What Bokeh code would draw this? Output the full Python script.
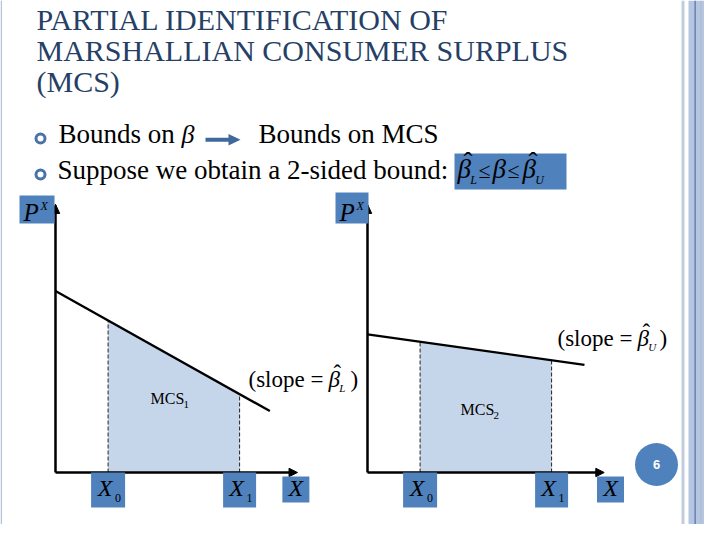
from bokeh.plotting import figure
from bokeh.models import Range1d
from bokeh.core.properties import value
from bokeh.embed import file_html
from bokeh.resources import INLINE

# ---------------- data ----------------
title_lines = ["PARTIAL IDENTIFICATION OF", "MARSHALLIAN CONSUMER SURPLUS", "(MCS)"]
bullet1_a = "Bounds on"
bullet1_b = "Bounds on MCS"
bullet2 = "Suppose we obtain a 2-sided bound:"
panel_names = ["L", "U"]
X0 = 2.0
X1 = 7.0
demand_intercept = [6.9, 5.25]
demand_slope = [-0.56, -0.14]
demand_end = [8.15, 8.25]
axis_x_len = [9.2, 9.0]
axis_y_len = [10.15, 10.15]
x_label_pos = [9.14, 9.24]
mcs_subs = ["1", "2"]
slope_subs = ["L", "U"]
page_number = "6"

# ---------------- style ----------------
SERIF = "Liberation Serif"
BLUE = "#4F81BD"
TITLE_C = "#263F66"
SHADE = "#C6D6EA"
HAT = "\u02c6"
K = 0.38  # baseline correction (fraction of font size)

p = figure(width=704, height=524, x_range=Range1d(8, 712), y_range=Range1d(532, 8),
           output_backend="svg", toolbar_location=None, min_border=0,
           x_axis_location=None, y_axis_location=None)
p.grid.visible = False
p.outline_line_color = None
p.background_fill_color = "white"


def txt(x, y, s, size, color="black", style="normal", font=SERIF, align="left"):
    p.text(x=[x], y=[y - K * size], text=[s], text_font=value(font),
           text_font_size=f"{size}px", text_color=color, text_font_style=style,
           text_align=align, text_baseline="alphabetic")


def box(l, r, t, b, color=BLUE):
    p.quad(left=[l], right=[r], top=[t], bottom=[b], fill_color=color, line_color=None)


def beta_hat(x, y, size, sub=None, hat=True):
    txt(x, y, "β", size, style="italic")
    if hat:
        txt(x + 0.22 * size, y - 0.27 * size, HAT, size)
    if sub:
        txt(x + 0.47 * size, y + 0.17 * size, sub, round(size * 0.46), style="italic")


# ---------------- slide borders ----------------
box(8, 9.5, 8, 532, "#B5C3DB")
box(689, 692, 8, 532, "#C3CCDA")
box(696, 712, 8, 532, "#B6C6E0")
box(708, 709, 8, 532, "#A9B9D6")
box(702, 703.3, 8, 532, "#5879AB")

# ---------------- title ----------------
for i, line in enumerate(title_lines):
    txt(44, 38 + 31 * i, line, 30, color=TITLE_C)

# ---------------- bullets ----------------
p.scatter(x=[48, 48], y=[146, 182], marker="circle", size=9, fill_color="white",
          line_color="#4A74A8", line_width=3)
txt(66, 152, bullet1_a, 27)
txt(189, 152, "β", 26, style="italic")
p.quad(left=[213], right=[238], top=[145.3], bottom=[149.2], fill_color="#3F689D", line_color=None)
p.patch(x=[236, 236, 248], y=[141.5, 153, 147.2], fill_color="#3F689D", line_color=None)
txt(266, 152, bullet1_b, 27)
txt(65, 188, bullet2, 27)

# formula box
box(462, 574, 161, 197)
beta_hat(465, 187, 27, "L")
txt(486, 186, "≤", 22)
beta_hat(500, 187, 27, None, hat=False)
txt(515, 186, "≤", 22)
beta_hat(530, 187, 27, "U")

# ---------------- panels ----------------
u = 26.3
origins = [(63, 480), (375, 480)]
px_boxes = [(27, 62, 203, 231), (343, 376, 200, 231)]
mcs_pos = [(158, 412), (468, 423)]
slope_pos = [(256, 396), (565, 355)]

for i, name in enumerate(panel_names):
    ox, oy = origins[i]
    p.extra_x_ranges[name] = Range1d((8 - ox) / u, (712 - ox) / u)
    p.extra_y_ranges[name] = Range1d((oy - 532) / u, (oy - 8) / u)
    a = demand_intercept[i]
    b = demand_slope[i]
    y0 = a + b * X0
    y1 = a + b * X1
    rn = dict(x_range_name=name, y_range_name=name)

    # MCS area
    p.patch(x=[X0, X0, X1, X1], y=[0, y0, y1, 0], fill_color=SHADE, line_color=None, **rn)
    p.segment(x0=[X0, X1], y0=[0, 0], x1=[X0, X1], y1=[y0, y1], line_color="#222222",
              line_width=1, line_dash="4 2", **rn)
    # demand line
    p.line(x=[0, demand_end[i]], y=[a, a + b * demand_end[i]], line_color="black",
           line_width=2.3, **rn)
    # axes
    ax = axis_x_len[i]
    ay = axis_y_len[i]
    p.line(x=[0, 0], y=[0, ay], line_color="black", line_width=2.5, **rn)
    p.line(x=[0, ax - 0.2], y=[0, 0], line_color="black", line_width=2.5, **rn)
    p.patches(xs=[[ax - 0.32, ax - 0.32, ax], [-0.16, 0.16, 0]],
              ys=[[0.16, -0.16, 0], [ay - 0.3, ay - 0.3, ay + 0.05]],
              fill_color="black", line_color="black", **rn)

    # X label boxes under the axis
    p.rect(x=[X0, X1], y=[-17.5 / u, -17.5 / u], width=[34, 33], height=[35, 35],
           width_units="screen", height_units="screen", fill_color=BLUE, line_color=None, **rn)
    p.rect(x=[x_label_pos[i]], y=[-17.0 / u], width=[27], height=[26],
           width_units="screen", height_units="screen", fill_color=BLUE, line_color=None, **rn)
    for xv, sub in [(X0, "0"), (X1, "1")]:
        p.text(x=[xv], y=[(-25.0 + K * 24) / u], text=["X"], text_font=value(SERIF),
               text_font_size="24px", text_font_style="italic", text_align="center",
               text_baseline="alphabetic", x_offset=-3, **rn)
        p.text(x=[xv], y=[(-30.0 + K * 12) / u], text=[sub], text_font=value(SERIF),
               text_font_size="12px", text_align="left", text_baseline="alphabetic",
               x_offset=7, **rn)
    p.text(x=[x_label_pos[i]], y=[(-25.0 + K * 24) / u], text=["X"], text_font=value(SERIF),
           text_font_size="24px", text_font_style="italic", text_align="center",
           text_baseline="alphabetic", **rn)

    # P^X box
    l, r, t, bt = px_boxes[i]
    box(l, r, t, bt)
    txt(l + 4, 229, "P", 25, style="italic")
    txt(l + 21, 218, "X", 12, style="italic")

    # MCS label
    mx, my = mcs_pos[i]
    txt(mx, my, "MCS", 16)
    txt(mx + 33, my + 4, mcs_subs[i], 11)

    # slope label
    sx, sy = slope_pos[i]
    txt(sx, sy, "(slope =", 23)
    beta_hat(sx + 80, sy, 23, slope_subs[i])
    txt(sx + 102, sy, ")", 23)

# ---------------- page number ----------------
p.scatter(x=[664], y=[472], marker="circle", size=43, fill_color=BLUE, line_color=None)
p.text(x=[664], y=[472], text=[page_number], text_font=value("Liberation Sans"),
       text_font_size="13px", text_color="white", text_font_style="bold",
       text_align="center", text_baseline="middle")

open("out.html", "w").write(file_html(p, INLINE))
